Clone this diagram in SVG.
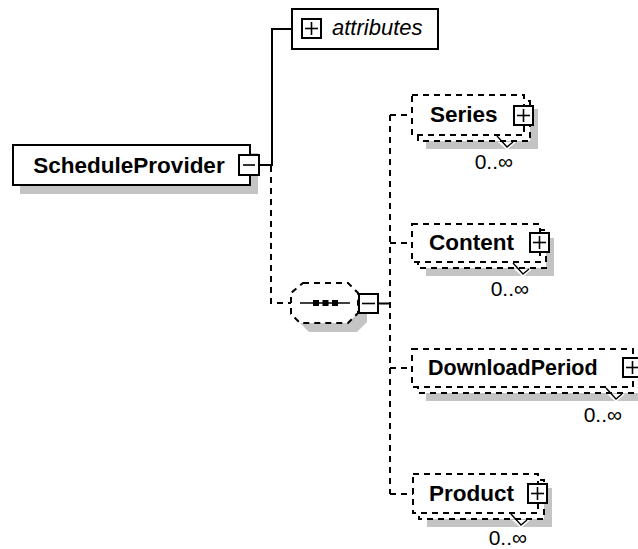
<svg xmlns="http://www.w3.org/2000/svg" width="638" height="549" viewBox="0 0 638 549">
  <style>
    .solid { fill: none; stroke: #000; stroke-width: 2; }
    .dash { fill: none; stroke: #000; stroke-width: 2; stroke-dasharray: 6 5; }
    .box { fill: #fff; stroke: #000; stroke-width: 2; }
    .dbox { fill: #fff; stroke: #000; stroke-width: 2; stroke-dasharray: 6 5; }
    .blank { fill: #fff; stroke: none; }
    .shadow { fill: #c4c4c4; stroke: none; }
    .btn { fill: #fff; stroke: #000; stroke-width: 2; }
    .sym { fill: none; stroke: #000; stroke-width: 1.6; }
    .notch { fill: none; stroke: #000; stroke-width: 1.4; }
    .name { font-family: "Liberation Sans", Arial, sans-serif; font-size: 22.5px; font-weight: bold; fill: #000; }
    .attr { font-family: "Liberation Sans", Arial, sans-serif; font-size: 22px; font-style: italic; fill: #000; }
    .occ { font-family: "Liberation Sans", Arial, sans-serif; font-size: 21px; fill: #000; text-anchor: end; }
  </style>

  <!-- connectors -->
  <g id="connectors">
    <line class="solid" x1="260" y1="165" x2="272" y2="165"/>
    <polyline class="solid" points="272,166 272,29 292,29"/>
    <polyline class="dash" points="271,166 271,303 291,303"/>
    <line class="solid" x1="378" y1="303.5" x2="390" y2="303.5"/>
    <line class="dash" x1="390" y1="115" x2="390" y2="494"/>
    <line class="dash" x1="390" y1="115" x2="412" y2="115"/>
    <line class="dash" x1="390" y1="243" x2="412" y2="243"/>
    <line class="dash" x1="390" y1="368" x2="412" y2="368"/>
    <line class="dash" x1="390" y1="494" x2="413" y2="494"/>
  </g>

  <!-- root element -->
  <g id="ScheduleProvider">
    <rect class="shadow" x="20" y="153" width="238" height="41"/>
    <rect class="box" x="13" y="145" width="237" height="40"/>
    <text class="name" x="129" y="173" text-anchor="middle">ScheduleProvider</text>
    <rect class="btn" x="239" y="155" width="20" height="20"/>
    <line class="sym" x1="243" y1="165" x2="255" y2="165"/>
  </g>

  <!-- attributes -->
  <g id="attributes">
    <rect class="box" x="292" y="9" width="146" height="40"/>
    <rect class="btn" x="302" y="19" width="19" height="19"/>
    <line class="sym" x1="305" y1="28.5" x2="318" y2="28.5"/>
    <line class="sym" x1="311.5" y1="22" x2="311.5" y2="35"/>
    <text class="attr" x="332" y="35">attributes</text>
  </g>

  <!-- sequence compositor -->
  <g id="sequence">
    <path class="shadow" d="M312,292 H357 L367,302 V322 L357,332 H309 L300,323 V302 Z"/>
    <path class="blank" d="M303,283 H348 L358,293 V313 L348,323 H300 L291,314 V293 Z"/>
    <path class="dash" d="M303,283 H348 L358,293 V313 L348,323 H300 L291,314 V293 Z"/>
    <line class="sym" x1="300" y1="303" x2="350" y2="303"/>
    <rect x="313" y="300" width="6" height="6" fill="#000"/>
    <rect x="322.5" y="300" width="6" height="6" fill="#000"/>
    <rect x="332" y="300" width="6" height="6" fill="#000"/>
    <rect class="btn" x="359" y="294" width="19" height="19"/>
    <line class="sym" x1="362" y1="303.5" x2="375" y2="303.5"/>
  </g>

  <!-- Series -->
  <g id="Series">
    <rect class="shadow" x="426" y="109" width="112" height="40"/>
    <rect class="dbox" x="418" y="101" width="112" height="40"/>
    <rect class="dbox" x="412" y="95" width="112" height="40"/>
    <path class="blank" d="M498,142 H516 L507,150 Z"/>
    <polyline class="notch" points="497,136 507,147 513,142"/>
    <text class="name" x="430" y="122">Series</text>
    <rect class="btn" x="514" y="106" width="19" height="19"/>
    <line class="sym" x1="517" y1="115.5" x2="530" y2="115.5"/>
    <line class="sym" x1="523.5" y1="109" x2="523.5" y2="122"/>
    <text class="occ" x="513" y="169">0..∞</text>
  </g>

  <!-- Content -->
  <g id="Content">
    <rect class="shadow" x="426" y="238" width="128" height="38"/>
    <rect class="dbox" x="418" y="230" width="128" height="38"/>
    <rect class="dbox" x="412" y="224" width="128" height="38"/>
    <path class="blank" d="M514,269 H532 L523,277 Z"/>
    <polyline class="notch" points="513,263 523,274 529,269"/>
    <text class="name" x="429" y="250">Content</text>
    <rect class="btn" x="530" y="233" width="19" height="19"/>
    <line class="sym" x1="533" y1="242.5" x2="546" y2="242.5"/>
    <line class="sym" x1="539.5" y1="236" x2="539.5" y2="249"/>
    <text class="occ" x="529" y="296">0..∞</text>
  </g>

  <!-- DownloadPeriod -->
  <g id="DownloadPeriod">
    <rect class="shadow" x="426" y="363" width="221" height="38"/>
    <rect class="dbox" x="418" y="355" width="221" height="38"/>
    <rect class="dbox" x="412" y="349" width="221" height="38"/>
    <path class="blank" d="M607,394 H625 L616,402 Z"/>
    <polyline class="notch" points="606,388 616,399 622,394"/>
    <text class="name" x="428" y="375" style="font-size:21.5px">DownloadPeriod</text>
    <rect class="btn" x="623" y="358" width="19" height="19"/>
    <line class="sym" x1="626" y1="367.5" x2="639" y2="367.5"/>
    <line class="sym" x1="632.5" y1="361" x2="632.5" y2="374"/>
    <text class="occ" x="622" y="422">0..∞</text>
  </g>

  <!-- Product -->
  <g id="Product">
    <rect class="shadow" x="427" y="488" width="125" height="39"/>
    <rect class="dbox" x="419" y="480" width="125" height="39"/>
    <rect class="dbox" x="413" y="474" width="125" height="39"/>
    <path class="blank" d="M512,520 H530 L521,528 Z"/>
    <polyline class="notch" points="511,514 521,525 527,520"/>
    <text class="name" x="429" y="501">Product</text>
    <rect class="btn" x="528" y="484" width="19" height="19"/>
    <line class="sym" x1="531" y1="493.5" x2="544" y2="493.5"/>
    <line class="sym" x1="537.5" y1="487" x2="537.5" y2="500"/>
    <text class="occ" x="527" y="545">0..∞</text>
  </g>
</svg>
